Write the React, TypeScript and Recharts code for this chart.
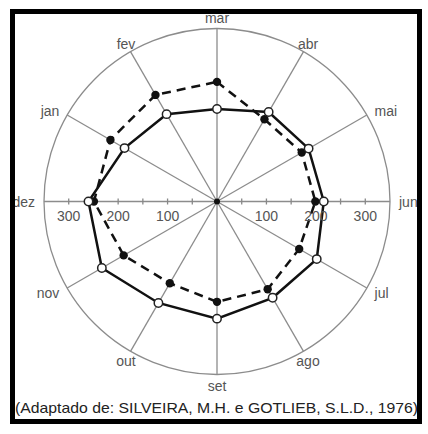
import { PolarAngleAxis, PolarGrid, PolarRadiusAxis, Radar, RadarChart } from "recharts"

const meses = ["mar", "abr", "mai", "jun", "jul", "ago", "set", "out", "nov", "dez", "jan", "fev"]
const linhaContinua = [187, 209, 214, 216, 233, 225, 237, 237, 269, 260, 216, 204]
const linhaTracejada = [242, 192, 198, 199, 192, 205, 203, 191, 218, 249, 249, 249]
const raioTicks = [0, 50, 100, 150, 200, 250, 300]

const CX = 217
const CY = 201.5
const RAIO = 173

const data = meses.map((mes, i) => ({
    mes,
    continua: linhaContinua[i],
    tracejada: linhaTracejada[i],
}))

const MesTick = (props: any) => {
    const { x, y, payload } = props
    const dx = x - CX
    const dy = y - CY
    const c = dx / Math.hypot(dx, dy)
    const anchor = Math.abs(c) < 0.6 ? "middle" : c > 0 ? "start" : "end"
    const ajuste = dy > 100 ? 2 : dy < -170 ? -1.5 : 0
    return (
        <text x={x} y={y + ajuste} textAnchor={anchor} dominantBaseline="central" fontSize={14} fill="#555" fontFamily="Liberation Sans">
            {payload.value}
        </text>
    )
}

const RaioTick = (props: any) => {
    const { x, y, payload } = props
    const v = payload.value
    if (v === 0) return <circle cx={x} cy={y} r={3} fill="#111" />
    const mx = 2 * CX - x
    return (
        <g>
            <line x1={x} y1={y - 3} x2={x} y2={y + 3} stroke="#888" strokeWidth={1.3} />
            <line x1={mx} y1={y - 3} x2={mx} y2={y + 3} stroke="#888" strokeWidth={1.3} />
            {v % 100 === 0 && (
                <>
                    <text x={x} y={y + 19} textAnchor="middle" fontSize={14} fill="#555" fontFamily="Liberation Sans">{v}</text>
                    <text x={mx} y={y + 19} textAnchor="middle" fontSize={14} fill="#555" fontFamily="Liberation Sans">{v}</text>
                </>
            )}
        </g>
    )
}

const PontoPreto = (props: any) => (
    <circle key={props.key ?? props.index} cx={props.cx} cy={props.cy} r={4.2} fill="#111" stroke="none" />
)

const PontoBranco = (props: any) => (
    <circle key={props.key ?? props.index} cx={props.cx} cy={props.cy} r={4.2} fill="#fff" stroke="#222" strokeWidth={1.5} />
)

export default function App() {
    return (
        <div style={{ position: "fixed", left: 0, top: 0, width: 428, height: 434, background: "#fff" }}>
            <RadarChart width={428} height={434} data={data} cx={CX} cy={CY} outerRadius={RAIO} margin={{ top: 0, right: 0, bottom: 0, left: 0 }}>
                <PolarGrid gridType="circle" polarRadius={[RAIO]} stroke="#8c8c8c" strokeWidth={1.3} />
                <PolarAngleAxis dataKey="mes" tick={MesTick} tickLine={false} axisLine={false} tickSize={9} />
                <PolarRadiusAxis angle={0} domain={[0, 350]} ticks={raioTicks as any} tick={RaioTick} axisLine={false} tickLine={false} />
                <Radar
                    dataKey="tracejada"
                    stroke="#111"
                    strokeWidth={2.5}
                    strokeDasharray="9 6"
                    fill="none"
                    fillOpacity={0}
                    dot={PontoPreto}
                    isAnimationActive={false}
                />
                <Radar
                    dataKey="continua"
                    stroke="#111"
                    strokeWidth={2.5}
                    fill="none"
                    fillOpacity={0}
                    dot={PontoBranco}
                    isAnimationActive={false}
                />
            </RadarChart>
            <svg width={428} height={434} style={{ position: "absolute", left: 0, top: 0 }}>
                <text x={15} y={413} fontSize={15} fill="#222" fontFamily="Liberation Sans" textLength={403} lengthAdjust="spacingAndGlyphs">
                    (Adaptado de: SILVEIRA, M.H. e GOTLIEB, S.L.D., 1976)
                </text>
                <rect x={12.5} y={11.5} width={407} height={410} fill="none" stroke="#000" strokeWidth={5} />
            </svg>
        </div>
    )
}
